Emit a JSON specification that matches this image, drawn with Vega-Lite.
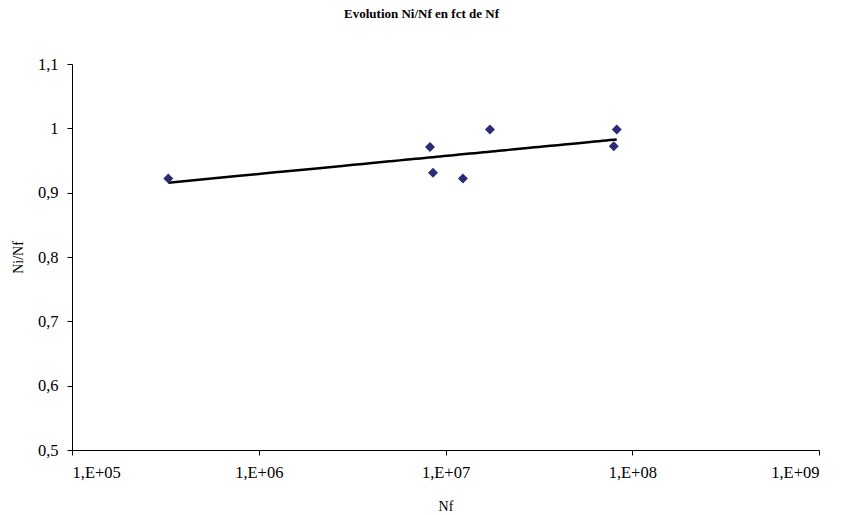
{
  "$schema": "https://vega.github.io/schema/vega-lite/v6.json",
  "autosize": {"type": "none"},
  "width": 747,
  "height": 386,
  "padding": {"left": 72, "top": 64, "right": 24, "bottom": 65},
  "background": "white",
  "title": {"text": "Evolution Ni/Nf en fct de Nf", "font": "Liberation Serif", "fontSize": 13, "fontWeight": "bold", "color": "black", "offset": 35, "anchor": "middle", "dx": -24},
  "config": {"view": {"stroke": null}, "axis": {"grid": false, "domainColor": "black", "tickColor": "black", "labelColor": "black", "titleColor": "black", "labelFont": "Liberation Serif", "titleFont": "Liberation Serif", "labelFontSize": 16.5, "titleFontSize": 14, "titleFontWeight": "normal", "tickSize": 5}},
  "data": {"values": [
    {"Nf": 328000, "ratio": 0.922},
    {"Nf": 8260000, "ratio": 0.971},
    {"Nf": 8570000, "ratio": 0.931},
    {"Nf": 12400000, "ratio": 0.922},
    {"Nf": 17300000, "ratio": 0.998},
    {"Nf": 82600000, "ratio": 0.998},
    {"Nf": 79600000, "ratio": 0.972}
  ]},
  "layer": [
    {
      "transform": [{"regression": "ratio", "on": "Nf", "method": "log"}],
      "mark": {"type": "line", "color": "black", "strokeWidth": 2.5},
      "encoding": {
        "x": {"field": "Nf", "type": "quantitative"},
        "y": {"field": "ratio", "type": "quantitative"}
      }
    },
    {
      "mark": {"type": "point", "shape": "diamond", "filled": true, "color": "#2b2b7a", "size": 100, "opacity": 1},
      "encoding": {
        "x": {"field": "Nf", "type": "quantitative", "scale": {"type": "log", "domain": [100000, 1000000000], "nice": false},
          "axis": {"title": "Nf", "values": [100000, 1000000, 10000000, 100000000, 1000000000], "labelExpr": "'1,E+0' + round(log(datum.value)/LN10)", "labelPadding": 9, "titlePadding": 19}},
        "y": {"field": "ratio", "type": "quantitative", "scale": {"domain": [0.5, 1.1], "nice": false, "zero": false},
          "axis": {"title": "Ni/Nf", "values": [0.5, 0.6, 0.7, 0.8, 0.9, 1.0, 1.1], "labelExpr": "replace(format(datum.value, ''), '.', ',')", "labelPadding": 9, "titlePadding": 12}}
      }
    }
  ]
}
